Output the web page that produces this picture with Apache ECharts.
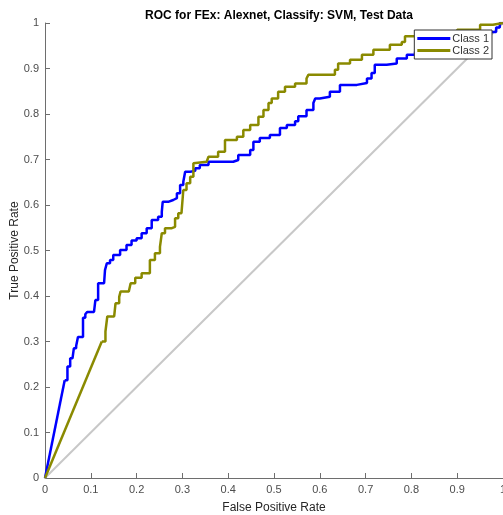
<!DOCTYPE html>
<html>
<head>
<meta charset="utf-8">
<script src="https://cdn.jsdelivr.net/npm/echarts@6/dist/echarts.min.js"></script>
<style>
  html, body { margin: 0; padding: 0; background: #fff; }
  #chart { width: 503px; height: 515px; }
</style>
</head>
<body>
<div id="chart"></div>
<script>
// ROC points (false positive rate / true positive rate)
var class1Fpr = [0, 0.043, 0.049, 0.052, 0.055, 0.060, 0.063, 0.068, 0.072, 0.078, 0.083, 0.088, 0.092, 0.107, 0.110, 0.116, 0.129, 0.131, 0.135, 0.142, 0.149, 0.164, 0.178, 0.189, 0.200, 0.211, 0.222, 0.233, 0.247, 0.255, 0.257, 0.269, 0.280, 0.288, 0.295, 0.302, 0.306, 0.317, 0.328, 0.338, 0.357, 0.411, 0.422, 0.448, 0.455, 0.469, 0.491, 0.513, 0.528, 0.546, 0.553, 0.571, 0.586, 0.590, 0.600, 0.622, 0.644, 0.681, 0.703, 0.713, 0.720, 0.746, 0.768, 0.790, 0.808, 0.860, 0.900, 0.921, 0.945, 0.965, 0.985, 0.993, 1];
var class1Tpr = [0, 0.215, 0.245, 0.245, 0.263, 0.265, 0.285, 0.290, 0.310, 0.310, 0.352, 0.360, 0.365, 0.369, 0.391, 0.428, 0.428, 0.457, 0.472, 0.479, 0.490, 0.501, 0.512, 0.522, 0.527, 0.538, 0.549, 0.567, 0.574, 0.585, 0.607, 0.611, 0.615, 0.626, 0.644, 0.651, 0.673, 0.675, 0.681, 0.688, 0.695, 0.699, 0.710, 0.721, 0.739, 0.747, 0.754, 0.769, 0.776, 0.784, 0.795, 0.809, 0.824, 0.834, 0.838, 0.849, 0.864, 0.868, 0.878, 0.890, 0.908, 0.911, 0.922, 0.930, 0.937, 0.950, 0.960, 0.969, 0.975, 0.980, 0.990, 1, 1];

var class2Fpr = [0, 0.124, 0.132, 0.136, 0.151, 0.154, 0.162, 0.165, 0.183, 0.187, 0.197, 0.211, 0.229, 0.240, 0.251, 0.255, 0.262, 0.277, 0.284, 0.291, 0.298, 0.302, 0.309, 0.317, 0.324, 0.328, 0.353, 0.357, 0.378, 0.393, 0.419, 0.433, 0.448, 0.466, 0.477, 0.488, 0.495, 0.509, 0.524, 0.546, 0.571, 0.575, 0.600, 0.633, 0.640, 0.666, 0.692, 0.717, 0.753, 0.779, 0.786, 0.812, 0.850, 0.900, 0.950, 0.978, 1];
var class2Tpr = [0, 0.300, 0.322, 0.355, 0.358, 0.384, 0.398, 0.410, 0.413, 0.428, 0.440, 0.450, 0.479, 0.494, 0.508, 0.538, 0.549, 0.552, 0.571, 0.582, 0.585, 0.633, 0.648, 0.662, 0.692, 0.695, 0.695, 0.706, 0.717, 0.743, 0.750, 0.765, 0.776, 0.794, 0.809, 0.824, 0.834, 0.849, 0.860, 0.867, 0.878, 0.886, 0.886, 0.897, 0.911, 0.919, 0.930, 0.941, 0.952, 0.958, 0.971, 0.971, 0.978, 0.985, 0.996, 1, 1];

var chanceLine = [0, 1];
var tickValues = [0, 0.1, 0.2, 0.3, 0.4, 0.5, 0.6, 0.7, 0.8, 0.9, 1];

function pairs(xs, ys) {
  return xs.map(function (x, i) { return [x, ys[i]]; });
}

var blue = '#0000ff';
var olive = '#8a8a00';
var axisColor = '#6e6e6e';
var labelColor = '#4d4d4d';

var c1 = pairs(class1Fpr, class1Tpr);
var c2 = pairs(class2Fpr, class2Tpr);

function tickText(v) {
  return String(tickValues[Math.round(v * 10)]);
}

var myChart = echarts.init(document.getElementById('chart'));
myChart.setOption({
  animation: false,
  title: {
    text: 'ROC for FEx: Alexnet, Classify: SVM, Test Data',
    left: 274,
    top: 5,
    textAlign: 'center',
    textStyle: { fontFamily: 'Liberation Sans', fontSize: 12, fontWeight: 'bold', color: '#000' }
  },
  grid: { left: 45, right: 0, top: 23, bottom: 37, containLabel: false, outerBoundsMode: 'none' },
  legend: {
    data: ['Class 1', 'Class 2'],
    orient: 'vertical',
    right: 11,
    top: 30,
    padding: [3, 3, 3, 3],
    itemGap: 1,
    itemWidth: 33,
    itemHeight: 3,
    icon: 'rect',
    backgroundColor: '#fff',
    borderColor: '#333',
    borderWidth: 1,
    borderRadius: 0,
    textStyle: { fontFamily: 'Liberation Sans', fontSize: 11, color: '#333', padding: [0, 0, 0, -3] }
  },
  xAxis: {
    type: 'value',
    min: 0,
    max: 1,
    interval: 0.1,
    name: 'False Positive Rate',
    nameLocation: 'middle',
    nameGap: 24,
    nameMoveOverlap: false,
    nameTextStyle: { fontFamily: 'Liberation Sans', fontSize: 12, color: '#262626' },
    axisLine: { lineStyle: { color: axisColor, width: 1 } },
    axisTick: { inside: true, length: 5, lineStyle: { color: axisColor } },
    axisLabel: { fontFamily: 'Liberation Sans', fontSize: 11, color: labelColor, margin: 6, formatter: tickText },
    splitLine: { show: false }
  },
  yAxis: {
    type: 'value',
    min: 0,
    max: 1,
    interval: 0.1,
    name: 'True Positive Rate',
    nameLocation: 'middle',
    nameGap: 24,
    nameMoveOverlap: false,
    nameTextStyle: { fontFamily: 'Liberation Sans', fontSize: 12, color: '#262626' },
    axisLine: { show: true, lineStyle: { color: axisColor, width: 1 } },
    axisTick: { show: true, inside: true, length: 5, lineStyle: { color: axisColor } },
    axisLabel: { fontFamily: 'Liberation Sans', fontSize: 11, color: labelColor, margin: 6, formatter: tickText },
    splitLine: { show: false }
  },
  series: [
    {
      name: 'chance',
      type: 'line',
      data: [[chanceLine[0], chanceLine[0]], [chanceLine[1], chanceLine[1]]],
      symbol: 'none',
      silent: true,
      lineStyle: { color: '#c8c8c8', width: 2 },
      z: 1
    },
    // first ramp is a straight line, the rest is a staircase
    {
      name: 'Class 1',
      type: 'line',
      data: c1.slice(0, 2),
      symbol: 'none',
      color: blue,
      lineStyle: { color: blue, width: 2.5 },
      z: 2
    },
    {
      name: 'Class 1',
      type: 'line',
      data: c1.slice(1),
      step: 'end',
      symbol: 'none',
      color: blue,
      lineStyle: { color: blue, width: 2.5 },
      z: 2
    },
    {
      name: 'Class 2',
      type: 'line',
      data: c2.slice(0, 2),
      symbol: 'none',
      color: olive,
      lineStyle: { color: olive, width: 2.5 },
      z: 3
    },
    {
      name: 'Class 2',
      type: 'line',
      data: c2.slice(1),
      step: 'end',
      symbol: 'none',
      color: olive,
      lineStyle: { color: olive, width: 2.5 },
      z: 3
    }
  ]
});
window.onresize = myChart.resize;
</script>
</body>
</html>
